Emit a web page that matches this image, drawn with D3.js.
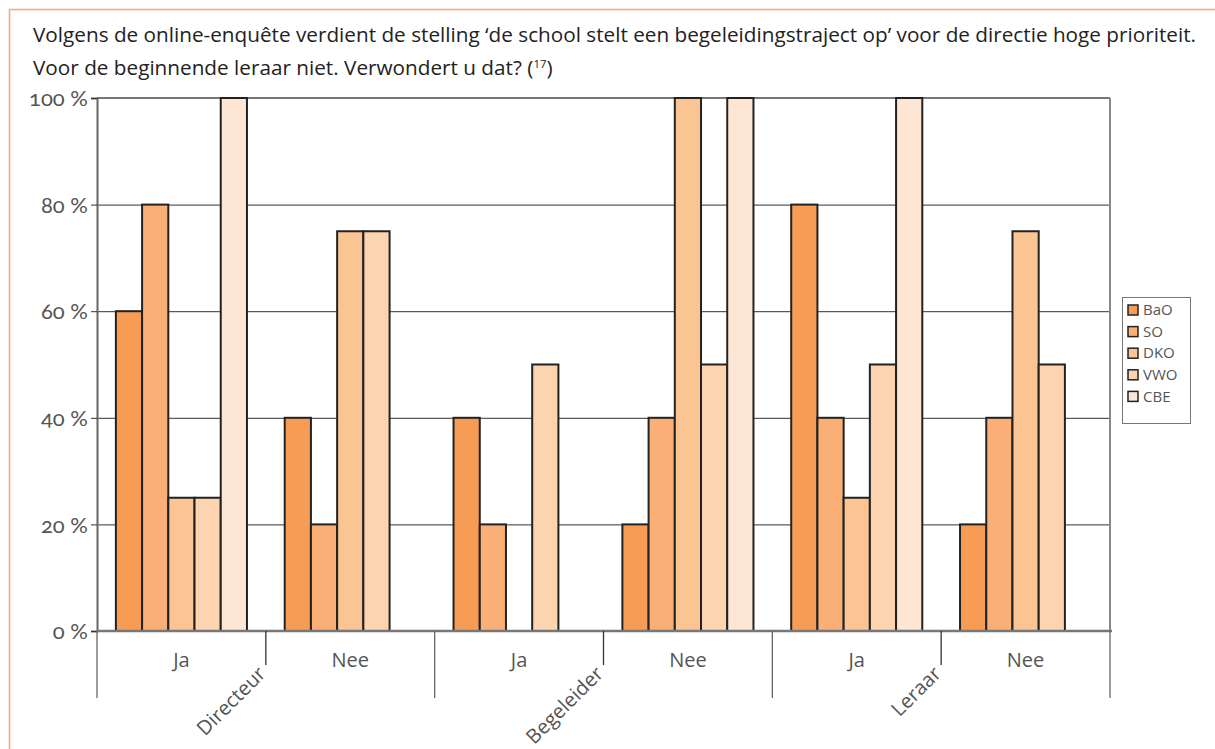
<!DOCTYPE html>
<html>
<head>
<meta charset="utf-8">
<script src="https://cdn.jsdelivr.net/npm/d3@7"></script>
<style>
  html, body { margin: 0; padding: 0; background: #fff; }
  svg { display: block; }
  text { font-family: "Open Sans", Lato, sans-serif; }
</style>
</head>
<body>
<svg id="chart" width="1215" height="749"></svg>
<script>
// Survey answers per respondent role and answer, split by school type (percent)
const roles = ["Directeur", "Begeleider", "Leraar"];
const answers = ["Ja", "Nee"];
const seriesNames = ["BaO", "SO", "DKO", "VWO", "CBE"];
const seriesColors = ["#F79C55", "#F9AF75", "#FBC493", "#FCD4B0", "#FEE6D5"];
// one row per (role, answer) group, in the order of roles × answers
const BaO = [60, 40, 40, 20, 80, 20];
const SO  = [80, 20, 20, 40, 40, 40];
const DKO = [25, 75, 0, 100, 25, 75];
const VWO = [25, 75, 50, 50, 50, 50];
const CBE = [100, 0, 0, 100, 100, 0];
const yTicks = [0, 20, 40, 60, 80, 100];
const titleLines = [
  "Volgens de online-enquête verdient de stelling ‘de school stelt een begeleidingstraject op’ voor de directie hoge prioriteit.",
  "Voor de beginnende leraar niet. Verwondert u dat? ("
];

const seriesValues = [BaO, SO, DKO, VWO, CBE];
const groups = [];
roles.forEach(r => answers.forEach(a => groups.push({ role: r, answer: a, key: r + "|" + a })));

const svg = d3.select("#chart");

// outer frame (orange)
svg.append("path")
  .attr("d", "M9.5,749 L9.5,9.5 L1215,9.5")
  .attr("fill", "none").attr("stroke", "#F4A57A").attr("stroke-width", 1.5);

// title, sized so the first line spans the text column
const title = svg.append("text").attr("fill", "#222").style("font-size", "18px");
const l1 = title.append("tspan").attr("x", 33).attr("y", 42).text(titleLines[0]);
const w1 = l1.node().getComputedTextLength();
const titleSize = 18 * 1164 / w1;
title.style("font-size", titleSize + "px");
title.append("tspan").attr("x", 33).attr("y", 75).text(titleLines[1]);
title.append("tspan").attr("dy", -7).style("font-size", (titleSize * 0.55) + "px").text("17");
title.append("tspan").attr("dy", 7).text(")");

const plot = { left: 97, right: 1110, top: 98, bottom: 631 };

const x0 = d3.scaleBand().domain(groups.map(g => g.key))
  .range([plot.left, plot.right]).paddingInner(0).paddingOuter(0);
const x1 = d3.scaleBand().domain(seriesNames)
  .range([0, x0.bandwidth()]).paddingOuter(0.72).paddingInner(0);
const y = d3.scaleLinear().domain([0, 100]).range([plot.bottom, plot.top]);

// horizontal grid
svg.append("g").selectAll("line").data(yTicks.filter(t => t > 0 && t < 100)).join("line")
  .attr("x1", plot.left).attr("x2", plot.right)
  .attr("y1", d => y(d) + 0.5).attr("y2", d => y(d) + 0.5)
  .attr("stroke", "#333").attr("stroke-width", 1);

// plot border top / right
svg.append("line").attr("x1", plot.left).attr("x2", plot.right)
  .attr("y1", plot.top).attr("y2", plot.top).attr("stroke", "#777").attr("stroke-width", 2);
svg.append("line").attr("x1", plot.right).attr("x2", plot.right)
  .attr("y1", plot.top).attr("y2", plot.bottom).attr("stroke", "#888").attr("stroke-width", 2);

// y axis
const yAxis = d3.axisLeft(y).tickValues(yTicks).tickSize(6).tickFormat(d => d + " %");
const gy = svg.append("g").attr("transform", `translate(${plot.left},0)`).call(yAxis);
gy.select(".domain").attr("stroke", "#666").attr("stroke-width", 2);
gy.selectAll(".tick line").attr("stroke", "#333");
gy.selectAll(".tick text")
  .attr("x", -9).attr("dy", "0.35em")
  .attr("fill", "#555")
  .style("font-family", "Lato, 'Open Sans', sans-serif")
  .style("font-size", "22px")
  .style("font-variant-numeric", "oldstyle-nums");

// bars
const barData = [];
groups.forEach((g, gi) => seriesNames.forEach((s, si) => {
  barData.push({ group: g.key, series: s, value: seriesValues[si][gi], color: seriesColors[si] });
}));
svg.append("g").selectAll("rect").data(barData.filter(d => d.value > 0)).join("rect")
  .attr("x", d => x0(d.group) + x1(d.series))
  .attr("width", x1.bandwidth())
  .attr("y", d => y(d.value))
  .attr("height", d => y(0) - y(d.value))
  .attr("fill", d => d.color)
  .attr("stroke", "#222").attr("stroke-width", 2);

// baseline
svg.append("line").attr("x1", plot.left).attr("x2", plot.right + 2)
  .attr("y1", plot.bottom).attr("y2", plot.bottom).attr("stroke", "#777").attr("stroke-width", 2.5);

// category separators: short between answers, long between roles
const gx = svg.append("g");
groups.forEach((g, i) => {
  if (i % 2 === 1) {
    const xs = x0(g.key);
    gx.append("line").attr("x1", xs).attr("x2", xs)
      .attr("y1", plot.bottom).attr("y2", 665).attr("stroke", "#333").attr("stroke-width", 1.3);
  }
});
roles.map((r, i) => i).concat([roles.length]).forEach(i => {
  const xs = i < roles.length ? x0(groups[i * 2].key) : plot.right;
  gx.append("line").attr("x1", xs).attr("x2", xs)
    .attr("y1", plot.bottom).attr("y2", 698).attr("stroke", "#666").attr("stroke-width", 1.3);
});

// answer labels
gx.selectAll("text.answer").data(groups).join("text").attr("class", "answer")
  .attr("x", d => x0(d.key) + x0.bandwidth() / 2)
  .attr("y", 667)
  .attr("text-anchor", "middle")
  .attr("fill", "#555").style("font-size", "20px")
  .text(d => d.answer);

// role labels, rotated
roles.forEach((r, i) => {
  const xm = x0(r + "|" + answers[1]) + 1;
  gx.append("text")
    .attr("transform", `translate(${xm},${675}) rotate(-45)`)
    .attr("text-anchor", "end")
    .attr("fill", "#555").style("font-size", "20px")
    .text(r);
});

// legend
const lg = svg.append("g").attr("transform", "translate(1122,297)");
lg.append("rect").attr("x", 0.5).attr("y", 0.5).attr("width", 68).attr("height", 126)
  .attr("fill", "#fff").attr("stroke", "#777").attr("stroke-width", 1);
seriesNames.forEach((s, i) => {
  const yy = 13 + i * 21.6;
  lg.append("rect").attr("x", 6).attr("y", yy - 5).attr("width", 10).attr("height", 10)
    .attr("fill", seriesColors[i]).attr("stroke", "#222").attr("stroke-width", 1.5);
  lg.append("text").attr("x", 21).attr("y", yy).attr("dy", "0.35em")
    .attr("fill", "#555").style("font-size", "15px").text(s);
});
</script>
</body>
</html>
